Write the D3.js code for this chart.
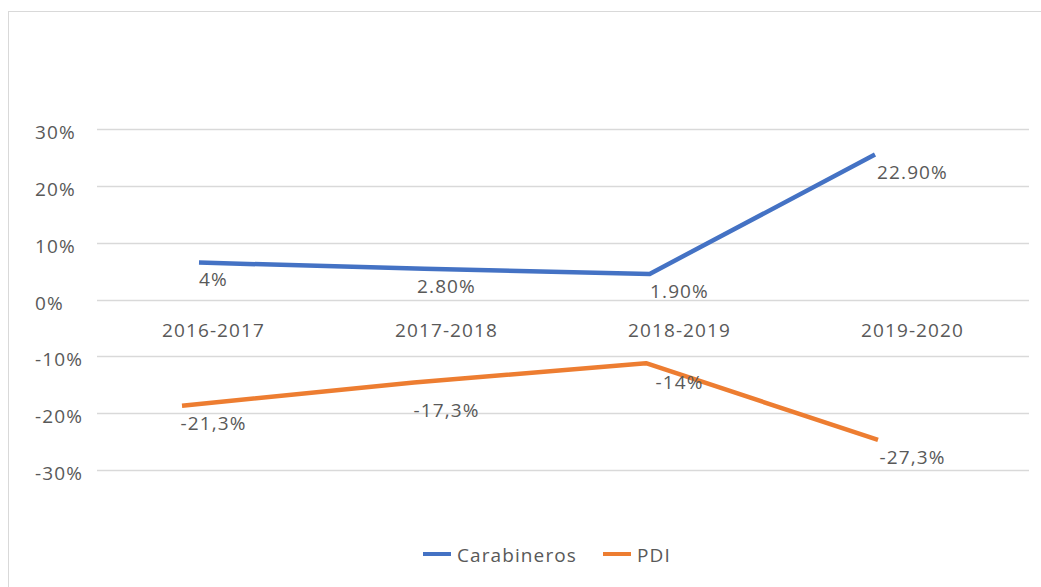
<!DOCTYPE html>
<html><head><meta charset="utf-8">
<script src="https://cdn.jsdelivr.net/npm/d3@7"></script>
<style>
html,body{margin:0;padding:0;background:#fff;}
svg text{font-family:"Open Sans",sans-serif;fill:#595959;font-size:19px;letter-spacing:1.1px;}
</style></head>
<body>
<svg id="chart" width="1041" height="587"></svg>
<script>
const categories = ["2016-2017","2017-2018","2018-2019","2019-2020"];
const yTicks = [-30,-20,-10,0,10,20,30];
const carabineros = [6.5, 5.4, 4.5, 25.5];
const pdi = [-18.7, -14.6, -11.2, -24.7];
const carabinerosLabels = ["4%","2.80%","1.90%","22.90%"];
const pdiLabels = ["-21,3%","-17,3%","-14%","-27,3%"];
const carabinerosLabelAt = [4, 2.8, 1.9, 22.9];
const pdiLabelAt = [-21.3, -19.0, -14, -27.3];
const seriesNames = ["Carabineros","PDI"];
const colors = ["#4472C4","#ED7D31"];

const svg = d3.select("#chart");
svg.append("rect").attr("x",8.5).attr("y",11.5).attr("width",1100).attr("height",700)
  .attr("fill","none").attr("stroke","#d9d9d9").attr("stroke-width",1);

const y = d3.scaleLinear().domain([-30,30]).range([470,129]);
const xBand = d3.scaleBand().domain(categories).range([97,1029]);
const xC = d3.scalePoint().domain(categories).range([199,875]);
const xP = d3.scalePoint().domain(categories).range([182,878]);

// gridlines
svg.append("g").selectAll("line").data(yTicks).join("line")
  .attr("x1",97).attr("x2",1029)
  .attr("y1",d=>Math.round(y(d))+0.5).attr("y2",d=>Math.round(y(d))+0.5)
  .attr("stroke","#d9d9d9").attr("stroke-width",1.3);

// y tick labels
svg.append("g").selectAll("text").data(yTicks).join("text")
  .attr("x",35).attr("y",d=>y(d)+3.5).attr("dy","0.35em")
  .text(d=>d+"%");

// x labels
svg.append("g").selectAll("text").data(categories).join("text")
  .attr("x",d=>xBand(d)+xBand.bandwidth()/2).attr("y",330).attr("dy","0.35em")
  .attr("text-anchor","middle").text(d=>d);

const line = (xs) => d3.line().x((d,i)=>xs(categories[i])).y(d=>y(d));

svg.append("path").datum(carabineros).attr("d",line(xC))
  .attr("fill","none").attr("stroke",colors[0]).attr("stroke-width",4.5).attr("stroke-linejoin","round");
svg.append("path").datum(pdi).attr("d",line(xP))
  .attr("fill","none").attr("stroke",colors[1]).attr("stroke-width",4.5).attr("stroke-linejoin","round");

// data labels
function labels(texts, at){
  svg.append("g").selectAll("text").data(texts).join("text")
    .attr("x",(d,i)=>xBand(categories[i])+xBand.bandwidth()/2)
    .attr("y",(d,i)=>y(at[i])+3).attr("dy","0.35em")
    .attr("text-anchor","middle").text(d=>d);
}
labels(carabinerosLabels, carabinerosLabelAt);
labels(pdiLabels, pdiLabelAt);

// legend
const legX = [423, 603];
const lg = svg.append("g");
seriesNames.forEach((n,i)=>{
  lg.append("line").attr("x1",legX[i]).attr("x2",legX[i]+28).attr("y1",554).attr("y2",554)
    .attr("stroke",colors[i]).attr("stroke-width",4);
  lg.append("text").attr("x",legX[i]+34).attr("y",555).attr("dy","0.35em").text(n);
});
</script>
</body></html>
